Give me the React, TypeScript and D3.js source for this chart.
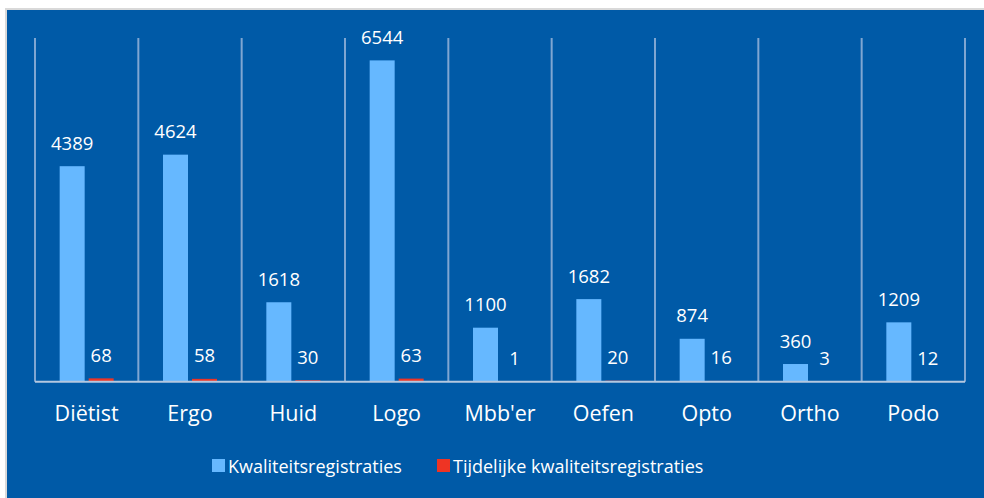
import { useRef, useEffect } from "react";
import * as d3 from "d3";

const categories = ["Diëtist", "Ergo", "Huid", "Logo", "Mbb'er", "Oefen", "Opto", "Ortho", "Podo"];
const kwaliteit = [4389, 4624, 1618, 6544, 1100, 1682, 874, 360, 1209];
const tijdelijk = [68, 58, 30, 63, 1, 20, 16, 3, 12];
const seriesNames = ["Kwaliteitsregistraties", "Tijdelijke kwaliteitsregistraties"];
const colors = ["#66B8FF", "#EE3424"];

export default function App() {
  const ref = useRef<SVGSVGElement>(null);

  useEffect(() => {
    const svg = d3.select(ref.current);
    svg.selectAll("*").remove();

    const W = 984, H = 498;
    const left = 35, right = 965, top = 38, bottom = 381.7;
    const font = "'Open Sans', sans-serif";

    // frame
    svg.append("rect").attr("x", 5).attr("y", 8).attr("width", W - 5).attr("height", H - 8).attr("fill", "#d9d9d9");
    svg.append("rect").attr("x", 7).attr("y", 10).attr("width", W - 7).attr("height", H - 10).attr("fill", "#005AA7");

    const x = d3.scaleBand().domain(categories).range([left, right]);
    const y = d3.scaleLinear().domain([0, 7000]).range([bottom, top]);

    // vertical gridlines
    const edges = categories.map((c) => x(c)!).concat([right]);
    svg.append("g")
      .selectAll("line")
      .data(edges)
      .join("line")
      .attr("x1", (d) => d).attr("x2", (d) => d)
      .attr("y1", top).attr("y2", bottom)
      .attr("stroke", "#7FA6D2")
      .attr("stroke-width", 2);

    const barW = 25, gap = 4;
    const groupW = barW * 2 + gap;
    const xs = (c: string, i: number) => x(c)! + x.bandwidth() / 2 - groupW / 2 + i * (barW + gap);

    [kwaliteit, tijdelijk].forEach((vals, si) => {
      const g = svg.append("g");
      g.selectAll("rect")
        .data(vals)
        .join("rect")
        .attr("x", (_, i) => xs(categories[i], si))
        .attr("y", (d) => y(d))
        .attr("width", barW)
        .attr("height", (d) => bottom - y(d))
        .attr("fill", colors[si]);
      g.selectAll("text")
        .data(vals)
        .join("text")
        .attr("x", (_, i) => xs(categories[i], si) + barW / 2)
        .attr("y", (d) => y(d) - 16.5)
        .attr("text-anchor", "middle")
        .attr("fill", "#fff")
        .attr("font-family", font)
        .attr("font-size", 18.5)
        .text((d) => d);
    });

    // baseline
    svg.append("line")
      .attr("x1", left).attr("x2", right)
      .attr("y1", bottom).attr("y2", bottom)
      .attr("stroke", "#B4C8E0")
      .attr("stroke-width", 2);

    // category labels
    svg.append("g")
      .selectAll("text")
      .data(categories)
      .join("text")
      .attr("x", (d) => x(d)! + x.bandwidth() / 2)
      .attr("y", 421)
      .attr("text-anchor", "middle")
      .attr("fill", "#fff")
      .attr("font-family", font)
      .attr("font-size", 21.5)
      .text((d) => d);

    // legend
    const legendX = [212, 437];
    seriesNames.forEach((name, i) => {
      svg.append("rect")
        .attr("x", legendX[i]).attr("y", 459)
        .attr("width", 13).attr("height", 13)
        .attr("fill", colors[i]);
      svg.append("text")
        .attr("x", legendX[i] + 16).attr("y", 473)
        .attr("fill", "#fff")
        .attr("font-family", font)
        .attr("font-size", 18)
        .text(name);
    });
  }, []);

  return (
    <svg ref={ref} width={984} height={498} style={{ position: "absolute", left: 0, top: 0 }} />
  );
}
